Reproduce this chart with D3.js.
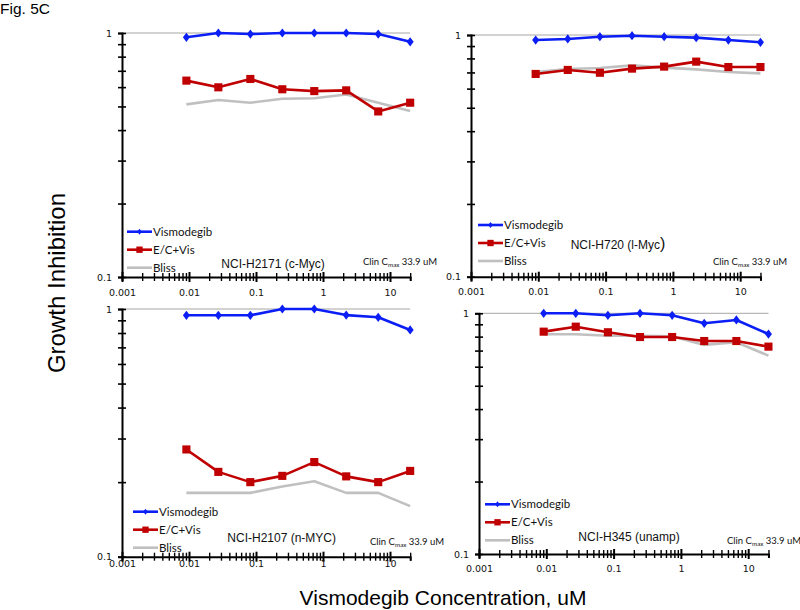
<!DOCTYPE html>
<html><head><meta charset="utf-8">
<script src="https://cdn.jsdelivr.net/npm/d3@7"></script>
<style>body{margin:0;background:#fff}svg{display:block}</style>
</head><body><svg id="c" width="800" height="610"></svg>
<script>
// ---------- data ----------
const concentrations = [0.00914, 0.0274, 0.0823, 0.247, 0.741, 2.22, 6.67, 20];
const cellLines = ["NCI-H2171 (c-Myc)", "NCI-H720 (l-Myc)", "NCI-H2107 (n-MYC)", "NCI-H345 (unamp)"];
const seriesNames = ["Vismodegib", "E/C+Vis", "Bliss"];
const xTickLabels = ["0.001", "0.01", "0.1", "1", "10"];
const yTickLabels = ["0.1", "1"];
const clinLabel = ["Clin C", "max", " 33.9 uM"];

const vismodegib_H2171 = [0.96, 1.0, 0.99, 1.0, 1.0, 1.0, 0.99, 0.92];
const ecVis_H2171      = [0.638, 0.599, 0.648, 0.588, 0.578, 0.582, 0.477, 0.518];
const bliss_H2171      = [0.51, 0.531, 0.518, 0.538, 0.54, 0.56, 0.518, 0.479];

const vismodegib_H720  = [0.953, 0.963, 0.984, 0.993, 0.984, 0.975, 0.953, 0.933];
const ecVis_H720       = [0.69, 0.717, 0.698, 0.726, 0.74, 0.776, 0.737, 0.737];
const bliss_H720       = [0.703, 0.723, 0.73, 0.749, 0.733, 0.721, 0.703, 0.694];

const vismodegib_H2107 = [0.943, 0.943, 0.943, 1.0, 1.0, 0.945, 0.926, 0.823];
const ecVis_H2107      = [0.271, 0.220, 0.200, 0.212, 0.241, 0.211, 0.200, 0.222];
const bliss_H2107      = [0.181, 0.181, 0.181, 0.192, 0.2015, 0.181, 0.181, 0.160];

const vismodegib_H345  = [1.0, 1.0, 0.981, 1.0, 0.981, 0.909, 0.938, 0.82];
const ecVis_H345       = [0.839, 0.88, 0.834, 0.797, 0.797, 0.767, 0.767, 0.727];
const bliss_H345       = [0.818, 0.818, 0.807, 0.807, 0.802, 0.739, 0.758, 0.667];

const panelSeries = [
  [vismodegib_H2171, ecVis_H2171, bliss_H2171],
  [vismodegib_H720, ecVis_H720, bliss_H720],
  [vismodegib_H2107, ecVis_H2107, bliss_H2107],
  [vismodegib_H345, ecVis_H345, bliss_H345]
];

// ---------- layout / style ----------
const colors = ["#0a1ef5", "#c00000", "#c0c0c0"];
const layout = [
  {left:122, decade:67,   top:33,    bottom:277,   tx:273, ty:267.5, lx:127, ly:231.7, cx:363, cy:265, xpad:8.5},
  {left:471, decade:67.3, top:35,    bottom:276.7, tx:618, ty:249.3, lx:478, ly:225,   cx:713, cy:265, xpad:8},
  {left:122, decade:67,   top:309,   bottom:556.7, tx:281.7, ty:542, lx:133, ly:511.7, cx:370, cy:545, xpad:-0.5},
  {left:479, decade:67.3, top:313.3, bottom:554,   tx:629, ty:541,   lx:485, ly:504.3, cx:727, cy:543.5, xpad:7}
];

const svg = d3.select("#c");
const tickFont = "'DejaVu Sans', Verdana, sans-serif";
const legFont = "Lato, 'Open Sans', sans-serif";
const mainFont = "'Liberation Sans', Arial, sans-serif";

svg.append("text").attr("x", 0).attr("y", 14).attr("font-family", mainFont)
  .attr("font-size", 15.5).text("Fig. 5C");

svg.append("text").attr("transform", "translate(65,283) rotate(-90)")
  .attr("text-anchor", "middle").attr("font-family", mainFont).attr("font-size", 24)
  .text("Growth Inhibition");

svg.append("text").attr("x", 443).attr("y", 605).attr("text-anchor", "middle")
  .attr("font-family", mainFont).attr("font-size", 21)
  .text("Vismodegib Concentration, uM");

layout.forEach((L, p) => {
  const right = L.left + L.decade * Math.log10(20 / 0.001);
  const x = d3.scaleLog().domain([0.001, 20]).range([L.left, right]);
  const y = d3.scaleLog().domain([0.1, 1]).range([L.bottom, L.top]);
  const g = svg.append("g");

  // gridline at 1
  g.append("line").attr("x1", x(0.001)).attr("x2", x(20)).attr("y1", y(1)).attr("y2", y(1))
    .attr("stroke", "#a6a6a6").attr("stroke-width", 1);

  const allX = x.ticks();
  const majors = xTickLabels.map(Number);
  const isMajor = v => majors.some(m => Math.abs(m - v) / m < 1e-6);

  // x axis (ticks crossing)
  const xb = g.append("g").attr("transform", `translate(0,${L.bottom})`)
    .call(d3.axisBottom(x).tickValues(allX).tickSize(4).tickFormat(""));
  const xt = g.append("g").attr("transform", `translate(0,${L.bottom})`)
    .call(d3.axisTop(x).tickValues(allX).tickSize(4).tickFormat(""));
  [xb, xt].forEach(a => {
    a.select(".domain").attr("stroke", "#000").attr("stroke-width", 2);
    a.selectAll(".tick line").attr("stroke", "#000")
      .attr("stroke-width", d => isMajor(d) ? 2 : 1.4)
      .attr("y2", function(d) { const v = +d3.select(this).attr("y2"); return isMajor(d) ? v * 1.25 : v; });
  });
  xt.select(".domain").remove();
  // x labels
  const xl = g.append("g").attr("transform", `translate(0,${L.bottom})`)
    .call(d3.axisBottom(x).tickValues(majors).tickSize(4).tickPadding(L.xpad)
      .tickFormat((d, i) => xTickLabels[i]));
  xl.select(".domain").remove();
  xl.selectAll(".tick line").remove();
  xl.selectAll("text").attr("font-family", tickFont).attr("font-size", 9.5).attr("fill", "#111");

  // y axis
  const yVals = d3.range(1, 11).map(k => k / 10);
  const yl = g.append("g").attr("transform", `translate(${L.left},0)`)
    .call(d3.axisLeft(y).tickValues(yVals).tickSize(4).tickPadding(6)
      .tickFormat(d => (Math.abs(d - 0.1) < 1e-9 ? yTickLabels[0] : Math.abs(d - 1) < 1e-9 ? yTickLabels[1] : "")));
  const yr = g.append("g").attr("transform", `translate(${L.left},0)`)
    .call(d3.axisRight(y).tickValues(yVals).tickSize(4).tickFormat(""));
  yr.select(".domain").remove();
  yl.select(".domain").attr("stroke", "#000").attr("stroke-width", 2);
  [yl, yr].forEach(a => a.selectAll(".tick line").attr("stroke", "#000").attr("stroke-width", 1.6));
  yl.selectAll("text").attr("font-family", tickFont).attr("font-size", 9.5).attr("fill", "#111");

  // series (Bliss first, then E/C+Vis, then Vismodegib)
  const line = d3.line().x((d, i) => x(concentrations[i])).y(d => y(d));
  [2, 1, 0].forEach(s => {
    const vals = panelSeries[p][s];
    g.append("path").attr("d", line(vals)).attr("fill", "none")
      .attr("stroke", colors[s]).attr("stroke-width", 2.6).attr("stroke-linejoin", "round");
    if (s < 2) {
      g.selectAll(null).data(vals).enter().append("path")
        .attr("fill", colors[s])
        .attr("d", d3.symbol(d3.symbolSquare, s === 0 ? 34 : 66)())
        .attr("transform", (d, i) => s === 0
          ? `translate(${x(concentrations[i])},${y(d)}) scale(0.85,1.12) rotate(45)`
          : `translate(${x(concentrations[i])},${y(d)})`);
    }
  });

  // legend
  seriesNames.forEach((nm, s) => {
    const ly = L.ly + s * 18;
    g.append("line").attr("x1", L.lx).attr("x2", L.lx + 25).attr("y1", ly).attr("y2", ly)
      .attr("stroke", colors[s]).attr("stroke-width", 2.6);
    if (s < 2) {
      g.append("path").attr("fill", colors[s])
        .attr("d", d3.symbol(d3.symbolSquare, s === 0 ? 14 : 40)())
        .attr("transform", s === 0
          ? `translate(${L.lx + 12.5},${ly}) scale(0.85,1.12) rotate(45)`
          : `translate(${L.lx + 12.5},${ly})`);
    }
    g.append("text").attr("x", L.lx + 26).attr("y", ly + 4).attr("font-family", legFont)
      .attr("font-size", 11.5).attr("fill", "#111").text(nm);
  });

  // panel title
  const t = g.append("text").attr("x", L.tx).attr("y", L.ty).attr("text-anchor", "middle")
    .attr("font-family", mainFont).attr("font-size", 12).attr("fill", "#111");
  if (p === 1) {
    const nm = cellLines[p];
    t.append("tspan").text(nm.slice(0, -1));
    t.append("tspan").attr("font-size", 16).text(nm.slice(-1));
  } else {
    t.text(cellLines[p]);
  }

  // clin cmax
  const c = g.append("text").attr("x", L.cx).attr("y", L.cy).attr("font-family", legFont)
    .attr("font-size", 9.5).attr("fill", "#111");
  c.append("tspan").text(clinLabel[0]);
  c.append("tspan").attr("font-size", 6.3).attr("dy", 2).text(clinLabel[1]);
  c.append("tspan").attr("dy", -2).text(clinLabel[2]);
});
</script>
</body></html>
